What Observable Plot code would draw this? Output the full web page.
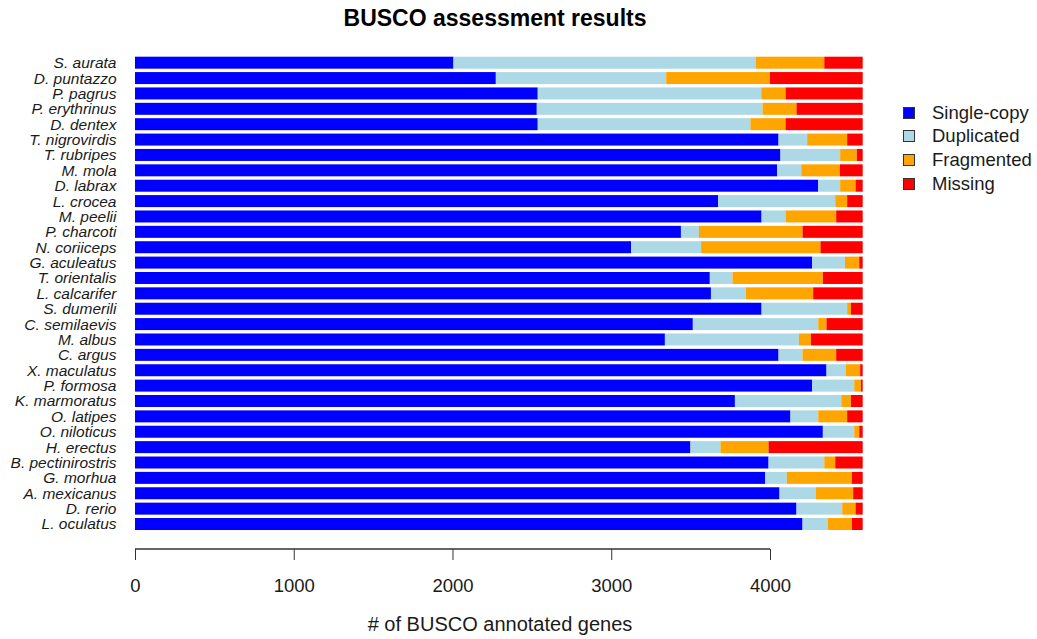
<!DOCTYPE html>
<html>
<head>
<meta charset="utf-8">
<script src="https://cdn.jsdelivr.net/npm/d3@7"></script>
<script src="https://cdn.jsdelivr.net/npm/@observablehq/plot@0.6"></script>
<style>
  html, body { margin: 0; padding: 0; background: #fff; }
  #wrap { position: relative; width: 1037px; height: 639px; overflow: hidden; font-family: "Liberation Sans", Arial, sans-serif; }
  #title { position: absolute; left: 195px; width: 600px; top: 7px; text-align: center; font-size: 23px; line-height: 23px; font-weight: bold; color: #000; }
  #xlabel { position: absolute; left: 200px; width: 600px; top: 614px; text-align: center; font-size: 20px; line-height: 20px; color: #1a1a1a; }
  #legend { position: absolute; left: 903px; top: 101px; }
  .li { position: relative; height: 23.6px; display: flex; align-items: center; font-size: 18.5px; color: #1a1a1a; }
  .sw { width: 10px; height: 10px; border: 1px solid #333; margin-right: 17px; }
</style>
</head>
<body>
<div id="wrap">
  <div id="title">BUSCO assessment results</div>
  <div id="chart"></div>
  <div id="xlabel"># of BUSCO annotated genes</div>
  <div id="legend"></div>
</div>
<script>
const species = ["S. aurata","D. puntazzo","P. pagrus","P. erythrinus","D. dentex","T. nigrovirdis","T. rubripes","M. mola","D. labrax","L. crocea","M. peelii","P. charcoti","N. coriiceps","G. aculeatus","T. orientalis","L. calcarifer","S. dumerili","C. semilaevis","M. albus","C. argus","X. maculatus","P. formosa","K. marmoratus","O. latipes","O. niloticus","H. erectus","B. pectinirostris","G. morhua","A. mexicanus","D. rerio","L. oculatus"];
const singleCopy = [2006,2273,2537,2531,2537,4054,4066,4045,4304,3674,3947,3439,3125,4266,3621,3628,3947,3514,3338,4054,4356,4266,3779,4129,4333,3499,3991,3970,4060,4167,4205];
const duplicated = [1903,1073,1408,1422,1340,180,376,152,138,737,151,113,441,206,143,220,539,790,844,151,122,265,670,175,198,189,351,136,229,288,160];
const fragmented = [433,653,153,214,221,252,105,243,97,75,319,653,752,90,569,424,24,52,76,212,90,42,61,182,31,303,69,410,235,84,151];
const missing = [242,585,486,417,486,98,37,144,45,98,167,379,266,22,251,312,74,228,326,167,16,11,74,98,22,593,173,68,60,45,68];
const categories = ["Single-copy","Duplicated","Fragmented","Missing"];
const colors = ["#0000FF","#ADD8E6","#FFA500","#FF0000"];
const xTicks = [0,1000,2000,3000,4000];

const series = [singleCopy, duplicated, fragmented, missing];
const data = [];
species.forEach((s, i) => {
  categories.forEach((c, j) => data.push({species: s, category: c, value: series[j][i]}));
});
const total = d3.max(species.map((s, i) => singleCopy[i] + duplicated[i] + fragmented[i] + missing[i]));

const W = 1037, H = 639, mB = 90;
const plot = Plot.plot({
  width: W,
  height: H,
  marginLeft: 135,
  marginRight: W - 862.7,
  marginTop: 55,
  marginBottom: mB,
  style: {fontFamily: "Liberation Sans, Arial, sans-serif", color: "#1a1a1a", background: "#fff"},
  x: {domain: [0, total], range: [135, 862.7]},
  y: {type: "band", domain: species, range: [55, 531.7], paddingInner: 0.22, paddingOuter: 0.11, round: false},
  color: {domain: categories, range: colors},
  marks: [
    Plot.barX(data, Plot.stackX({x: "value", y: "species", fill: "category", order: categories})),
    Plot.axisX({ticks: xTicks, tickSize: 11, tickPadding: 18, fontSize: 18.5, label: null, tickFormat: d => String(d), stroke: "#333"}),
    Plot.axisY({tickSize: 0, tickPadding: 19, fontSize: 15.5, fontStyle: "italic", label: null})
  ]
});
document.getElementById("chart").appendChild(plot);

// axis baseline spanning the tick range, positioned with the plot's own x scale
const xs = plot.scale("x");
d3.select(plot).append("line")
  .attr("x1", xs.apply(xTicks[0])).attr("x2", xs.apply(xTicks[xTicks.length - 1]))
  .attr("y1", H - mB).attr("y2", H - mB)
  .attr("stroke", "#333").attr("stroke-width", 1.3);
d3.select(plot).selectAll("[aria-label='y-axis tick label'] text").style("font-style", "italic");

const legend = d3.select("#legend");
categories.forEach((c, i) => {
  const row = legend.append("div").attr("class", "li");
  row.append("div").attr("class", "sw").style("background", colors[i]);
  row.append("span").text(c);
});
</script>
</body>
</html>
